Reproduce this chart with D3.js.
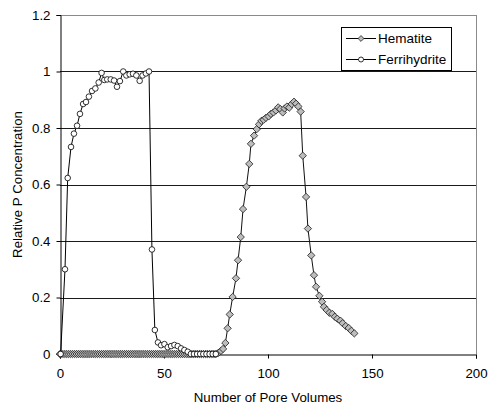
<!DOCTYPE html>
<html>
<head>
<meta charset="utf-8">
<script src="https://cdn.jsdelivr.net/npm/d3@7"></script>
<style>
  body { margin: 0; background: #fff; }
  text { font-family: "Liberation Sans", Arial, sans-serif; fill: #000; }
</style>
</head>
<body>
<main></main>
<script>
const WIDTH = 489
const HEIGHT = 408

// pore volumes / relative concentration
const hematiteX = [0,1,2,3,4,5,6,7,8,9,10,11,12,13,14,15,16,17,18,19,20,21,22,23,24,25,26,27,28,29,30,
  31,32,33,34,35,36,37,38,39,40,41,42,43,44,45,46,47,48,49,50,51,52,53,54,55,56,57,58,59,60,
  61,62,63,64,65,66,67,68,69,70,71,72,73,74,75,
  76.1,77.4,78.4,79.5,80.6,81.6,83.0,84.6,85.6,86.9,88.0,89.6,91.0,91.8,93.3,94.6,95.7,96.8,97.9,
  99.0,100.3,101.4,102.6,103.8,104.9,105.9,107.1,108.0,109.1,110.2,111.4,112.5,113.5,114.6,115.7,
  116.7,118.3,119.2,120.8,122.1,123.1,124.7,126.0,126.9,128.2,129.5,130.9,132.1,133.3,134.8,135.9,
  137.4,138.8,140.1,141.5]
const hematiteY = [0,0,0,0,0,0,0,0,0,0,0,0,0,0,0,0,0,0,0,0,0,0,0,0,0,0,0,0,0,0,0,
  0,0,0,0,0,0,0,0,0,0,0,0,0,0,0,0,0,0,0,0,0,0,0,0,0,0,0,0,0,0,
  0,0,0,0,0,0,0,0,0,0,0,0,0,0,0,
  0.004,0.011,0.018,0.039,0.091,0.14,0.202,0.268,0.332,0.414,0.513,0.592,0.673,0.744,0.773,0.796,0.813,0.825,0.829,
  0.836,0.841,0.85,0.855,0.862,0.873,0.867,0.855,0.869,0.876,0.872,0.885,0.893,0.886,0.876,0.858,
  0.702,0.556,0.444,0.349,0.279,0.238,0.206,0.185,0.167,0.156,0.146,0.142,0.132,0.125,0.118,0.109,
  0.099,0.092,0.082,0.073]

const ferriX = [0.3,2.4,3.7,5.3,6.7,8.2,9.6,11.1,12.5,13.9,15.4,17.0,18.6,20.0,21.3,22.7,24.4,26.0,27.4,28.8,
  30.4,31.9,33.5,35.1,36.7,38.3,39.7,41.3,42.8,44.2,45.6,47.1,48.6,50.2,51.8,53.4,55.0,56.6,58.2,59.8,61.4,
  62.9,64.4,65.9,67.4,68.9,70.4,71.9,73.4,74.9]
const ferriY = [0,0.3,0.623,0.733,0.78,0.808,0.85,0.885,0.892,0.911,0.931,0.94,0.961,0.995,0.97,0.972,0.972,0.968,0.946,0.966,
  1.0,0.986,0.99,0.992,0.986,0.967,0.986,0.993,1.0,0.37,0.085,0.041,0.031,0.035,0.024,0.028,0.032,0.028,0.02,0.014,0.008,
  0,0,0,0,0,0,0,0,0]

const xTicks = [0,50,100,150,200]
const yTicks = [0,0.2,0.4,0.6,0.8,1,1.2]
const seriesNames = ['Hematite','Ferrihydrite']

const margin = {left: 60, top: 15, right: 13, bottom: 54}

const svg = d3.select('main').append('svg')
  .attr('width', WIDTH)
  .attr('height', HEIGHT)

const x = d3.scaleLinear().domain([0,200]).range([margin.left, WIDTH - margin.right])
const y = d3.scaleLinear().domain([0,1.2]).range([HEIGHT - margin.bottom, margin.top])

// gridlines
svg.append('g')
  .selectAll('line')
  .data(yTicks.filter(d => d > 0))
  .enter()
  .append('line')
    .attr('x1', x(0)).attr('x2', x(200))
    .attr('y1', d => Math.round(y(d)) + 0.5)
    .attr('y2', d => Math.round(y(d)) + 0.5)
    .style('stroke', d => d === 1.2 ? '#8a8a8a' : '#1a1a1a')
    .style('stroke-width', 1)

// right border
svg.append('line')
  .attr('x1', Math.round(x(200)) + 0.5).attr('x2', Math.round(x(200)) + 0.5)
  .attr('y1', y(1.2)).attr('y2', y(0))
  .style('stroke', '#8a8a8a')

// axes
const yAxis = d3.axisLeft(y).tickValues(yTicks).tickFormat(d3.format('~g')).tickSize(4).tickPadding(6)
const xAxis = d3.axisBottom(x).tickValues(xTicks).tickSize(4).tickPadding(8)

const gy = svg.append('g')
  .attr('transform', `translate(${Math.round(x(0)) + 0.5},0)`)
  .call(yAxis)
const gx = svg.append('g')
  .attr('transform', `translate(0,${Math.round(y(0)) + 0.5})`)
  .call(xAxis)

;[gx, gy].forEach(g => {
  g.select('.domain').style('stroke', '#000')
  g.selectAll('.tick line').style('stroke', '#000')
  g.selectAll('.tick text').style('font-size', '13.3px').style('fill', '#000')
})
gx.selectAll('.tick text').attr('dy', '0.9em')

// titles
svg.append('text')
  .attr('x', (x(0) + x(200)) / 2)
  .attr('y', 402)
  .attr('text-anchor', 'middle')
  .style('font-size', '13.3px')
  .text('Number of Pore Volumes')

svg.append('text')
  .attr('transform', `translate(22,${(y(0) + y(1.2)) / 2}) rotate(-90)`)
  .attr('text-anchor', 'middle')
  .style('font-size', '13.3px')
  .text('Relative P Concentration')

const line = d3.line().x(d => x(d[0])).y(d => y(d[1]))

const hematite = hematiteX.map((v, i) => [v, hematiteY[i]])
const ferri = ferriX.map((v, i) => [v, ferriY[i]])

const diamond = d3.symbol().type(d3.symbolDiamond2).size(34)

// hematite
svg.append('path')
  .datum(hematite)
  .attr('d', line)
  .style('fill', 'none')
  .style('stroke', '#111')
  .style('stroke-width', 1)

svg.append('g')
  .selectAll('path')
  .data(hematite)
  .enter()
  .append('path')
    .attr('d', diamond)
    .attr('transform', d => `translate(${x(d[0])},${y(d[1])})`)
    .style('fill', '#bdbdbd')
    .style('stroke', '#1a1a1a')
    .style('stroke-width', 0.8)

// ferrihydrite
svg.append('path')
  .datum(ferri)
  .attr('d', line)
  .style('fill', 'none')
  .style('stroke', '#000')
  .style('stroke-width', 1)

svg.append('g')
  .selectAll('circle')
  .data(ferri)
  .enter()
  .append('circle')
    .attr('cx', d => x(d[0]))
    .attr('cy', d => y(d[1]))
    .attr('r', 2.8)
    .style('fill', '#fff')
    .style('stroke', '#000')
    .style('stroke-width', 0.8)

// legend
const legend = svg.append('g').attr('transform', 'translate(341,27)')
legend.append('rect')
  .attr('x', 0.5).attr('y', 0.5)
  .attr('width', 110).attr('height', 43)
  .style('fill', '#fff')
  .style('stroke', '#000')

const rows = legend.selectAll('g.row')
  .data(seriesNames)
  .enter()
  .append('g')
    .attr('class', 'row')
    .attr('transform', (d, i) => `translate(0,${11.5 + i * 21})`)

rows.append('line')
  .attr('x1', 5).attr('x2', 35)
  .attr('y1', 0).attr('y2', 0)
  .style('stroke', '#000')

rows.filter((d, i) => i === 0).append('path')
  .attr('d', d3.symbol().type(d3.symbolDiamond2).size(22))
  .attr('transform', 'translate(20,0)')
  .style('fill', '#bdbdbd')
  .style('stroke', '#222')
  .style('stroke-width', 0.8)

rows.filter((d, i) => i === 1).append('circle')
  .attr('cx', 20).attr('cy', 0).attr('r', 2.5)
  .style('fill', '#fff')
  .style('stroke', '#000')
  .style('stroke-width', 0.8)

rows.append('text')
  .attr('x', 37)
  .attr('y', 0)
  .attr('dy', '0.35em')
  .style('font-size', '13.5px')
  .text(d => d)
</script>
</body>
</html>
